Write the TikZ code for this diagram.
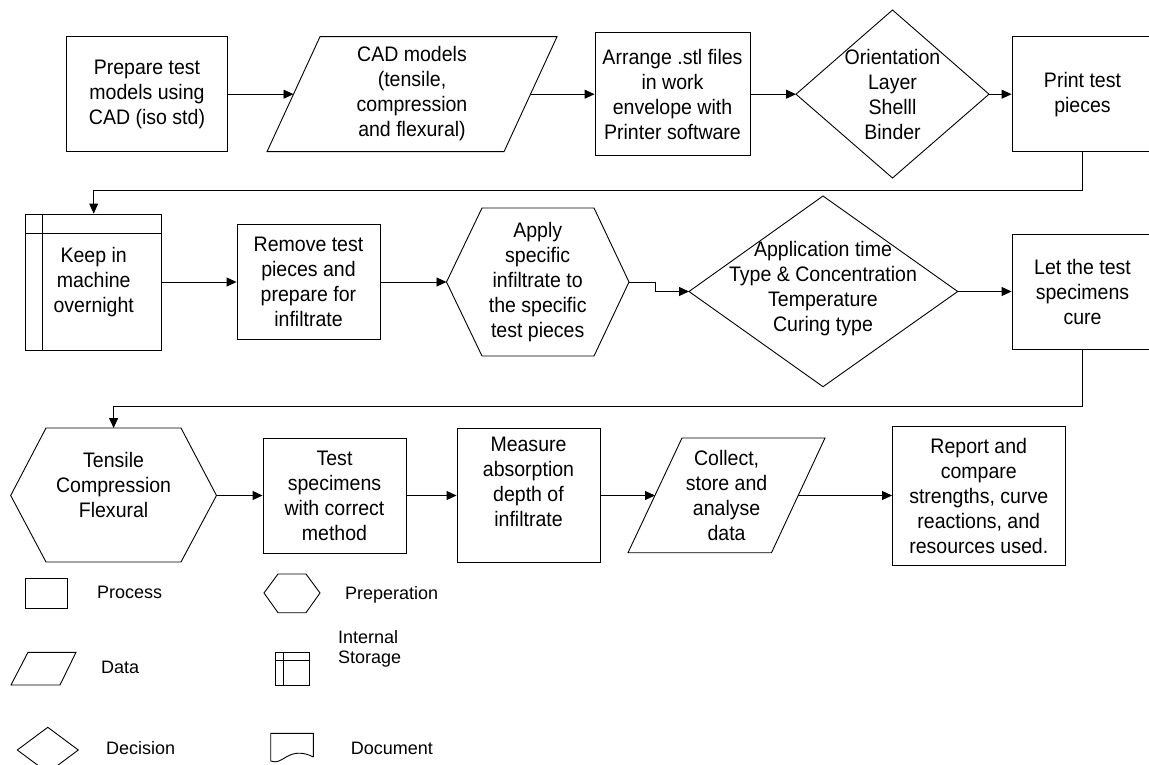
\documentclass[tikz,border=0pt]{standalone}
\usepackage{fontspec}
\setmainfont{Liberation Sans}
\newfontfamily\flowfont[FakeStretch=0.93]{Liberation Sans}
\newcommand\flowtext{\flowfont\fontsize{21}{25}\selectfont}
\newcommand\keytext{\fontsize{18}{20}\selectfont}
\usetikzlibrary{arrows.meta,calc}

\begin{document}
\begin{tikzpicture}[x=1pt,y=-1pt,
  ink/.style={draw=black, line width=0.9pt},
  box/.style={ink, fill=white, align=center, inner sep=0pt, font=\flowtext},
  txt/.style={align=center, inner sep=0pt, font=\flowtext},
  key/.style={inner sep=0pt, font=\keytext, anchor=base west, align=left},
  link/.style={draw=black, line width=0.9pt, -{Triangle[length=10pt,width=9pt]}},
]
\useasboundingbox (0,0) rectangle (1149,765);

% ---------- first row ----------
\node[box, minimum width=160.4pt, minimum height=115pt] (prep) at (147,94.2)
  {Prepare test\\models using\\CAD (iso std)};

\draw[ink] (320,36.7) -- (557,36.7) -- (504,151.7) -- (267,151.7) -- cycle;
\node[txt] (cad) at (412,93.5) {CAD models\\(tensile,\\compression\\and flexural)};
\coordinate (cad-w) at (293.5,94.2);
\coordinate (cad-e) at (530.5,94.2);

\node[box, minimum width=155pt, minimum height=123.4pt] (arrange) at (672.5,94.2)
  {Arrange .stl files\\in work\\envelope with\\Printer software};

\draw[ink] (796,94.2) -- (892.5,10) -- (989,94.2) -- (892.5,178) -- cycle;
\node[txt] (orient) at (892.5,94) {Orientation\\Layer\\Shelll\\Binder};
\coordinate (orient-w) at (796,94.2);
\coordinate (orient-e) at (989,94.2);

\node[box, minimum width=141pt, minimum height=115pt] (print) at (1082.5,94.2)
  {Print test\\pieces};

% ---------- second row ----------
\node[box, minimum width=136pt, minimum height=136pt] (keep) at (93.7,282)
  {Keep in\\machine\\overnight};
\draw[ink] ([xshift=17.6pt]keep.north west) -- ([xshift=17.6pt]keep.south west);
\draw[ink] ([yshift=-20pt]keep.north west) -- ([yshift=-20pt]keep.north east);

\node[box, minimum width=143pt, minimum height=115pt] (remove) at (308.5,282)
  {Remove test\\pieces and\\prepare for\\infiltrate};

\draw[ink] (446.5,282) -- (482,208) -- (594,208) -- (629,282) -- (594,356) -- (482,356) -- cycle;
\node[txt] (apply) at (537.7,282.5) {Apply\\specific\\infiltrate to\\the specific\\test pieces};
\coordinate (apply-w) at (446.5,282);
\coordinate (apply-e) at (629,282);

\draw[ink] (689,291.5) -- (823,196) -- (957.7,291.5) -- (823,386.7) -- cycle;
\node[txt] (params) at (823,289) {Application time\\Type \& Concentration\\Temperature\\Curing type};
\coordinate (params-w) at (689,291.5);
\coordinate (params-e) at (957.7,291.5);

\node[box, minimum width=141pt, minimum height=115pt] (let) at (1082.5,291.5)
  {Let the test\\specimens\\cure};

% ---------- third row ----------
\draw[ink] (10.7,495.5) -- (46,428) -- (181,428) -- (216.5,495.5) -- (181,562) -- (46,562) -- cycle;
\node[txt] (tensile) at (113.6,484.5) {Tensile\\Compression\\Flexural};
\coordinate (tensile-n) at (113.6,428);
\coordinate (tensile-e) at (216.5,495.5);

\node[box, minimum width=143pt, minimum height=115pt] (test) at (334.5,495.5)
  {Test\\specimens\\with correct\\method};

\node[box, minimum width=143pt, minimum height=134pt] (measure) at (528.5,495.5) {};
\node[txt] (measuretxt) at (528.5,482) {Measure\\absorption\\depth of\\infiltrate};

\draw[ink] (682,438) -- (825,438) -- (771.5,552.7) -- (628,552.7) -- cycle;
\node[txt] (collect) at (726.6,495) {Collect,\\store and\\analyse\\data};
\coordinate (collect-w) at (655,495.5);
\coordinate (collect-e) at (798.3,495.5);

\node[box, minimum width=172.5pt, minimum height=139pt] (report) at (978.75,495.5)
  {Report and\\compare\\strengths, curve\\reactions, and\\resources used.};

% ---------- connectors ----------
\draw[link] (prep.east) -- (cad-w);
\draw[link] (cad-e) -- (arrange.west);
\draw[link] (arrange.east) -- (orient-w);
\draw[link] (orient-e) -- (print.west);
\draw[link] (print.south) -- (print.south |- 0,190) -- (keep.north |- 0,190) -- (keep.north);
\draw[link] (keep.east) -- (remove.west);
\draw[link] (remove.east) -- (apply-w);
\draw[link] (apply-e) -- (655.7,282) -- (655.7,291.5) -- (params-w);
\draw[link] (params-e) -- (let.west);
\draw[link] (let.south) -- (let.south |- 0,406) -- (tensile-n |- 0,406) -- (tensile-n);
\draw[link] (tensile-e) -- (test.west);
\draw[link] (test.east) -- (measure.west);
\draw[link] (measure.east) -- (collect-w);
\draw[link] (collect-e) -- (report.west);

% ---------- legend ----------
\node[ink, inner sep=0pt, minimum width=42.7pt, minimum height=30pt] (kproc) at (46.4,593.3) {};
\node[key] (kproclbl) at (97,598) {Process};

\draw[ink] (28,652.3) -- (76,652.3) -- (60,685) -- (11,685) -- cycle;
\node[key] (kdatalbl) at (101,673.3) {Data};

\draw[ink] (17.3,750) -- (47.8,727.3) -- (78.3,750) -- (47.8,772.7) -- cycle;
\node[key] (kdeclbl) at (106,754.3) {Decision};

\draw[ink] (264,593) -- (278,574) -- (306,574) -- (320,593) -- (306,612.7) -- (278,612.7) -- cycle;
\node[key] (kpreplbl) at (345,599.3) {Preperation};

\draw[ink] (275,652.7) rectangle (309,685);
\draw[ink] (283.7,652.7) -- (283.7,685);
\draw[ink] (275,660) -- (309,660);
\node[key] (kstorlbl) at (338,663.3) {Internal\\Storage};

\draw[ink] (313.3,757) -- (313.3,733.3) -- (270.7,733.3) -- (270.7,761)
  .. controls (277,763.5) and (281,760) .. (287,756.5)
  .. controls (294,752.5) and (303,751.5) .. (313.3,757);
\node[key] (kdoclbl) at (350.7,754.3) {Document};
\end{tikzpicture}
\end{document}
